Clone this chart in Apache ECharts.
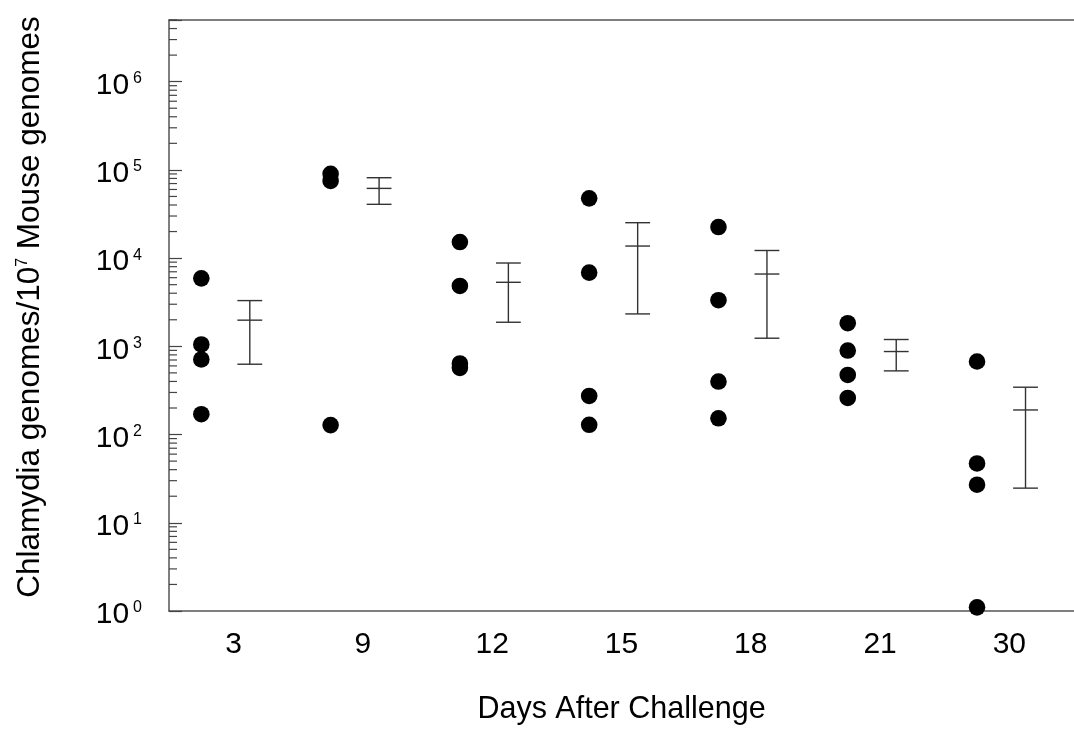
<!DOCTYPE html>
<html>
<head>
<meta charset="utf-8">
<script src="https://cdn.jsdelivr.net/npm/echarts@6/dist/echarts.min.js"></script>
<style>
  html, body { margin: 0; padding: 0; background: #fff; }
  #main { width: 1074px; height: 730px; }
</style>
</head>
<body>
<div id="main"></div>
<script>
// categories (days after challenge)
var days = ['3', '9', '12', '15', '18', '21', '30'];

// individual mice, one array per day
var day3 = [5900, 1050, 710, 170];
var day9 = [90000, 75000, 128];
var day12 = [15200, 4830, 640, 570];
var day15 = [47600, 6850, 274, 129];
var day18 = [22500, 3330, 399, 153];
var day21 = [1830, 896, 474, 260];
var day30 = [673, 47, 27, 1.1];

// group mean and error range
var meanVals = [1980, 61700, 5320, 13700, 6600, 873, 190];
var upperVals = [3300, 81500, 8800, 25200, 12200, 1195, 344];
var lowerVals = [627, 40700, 1875, 2330, 1236, 527, 24.7];

// y axis: decades 10^0 .. 10^6, top at 5x10^6
var yExponents = [0, 1, 2, 3, 4, 5, 6];
var yTop = 5e6;

var groups = [day3, day9, day12, day15, day18, day21, day30];
var lg = function (v) { return Math.log10(v); };

var dotData = [];
groups.forEach(function (g, i) {
  g.forEach(function (v) { dotData.push([i, lg(v)]); });
});

var barData = meanVals.map(function (m, i) {
  return [i, lg(lowerVals[i]), lg(m), lg(upperVals[i])];
});

// minor log ticks (2..9 x 10^n)
var minorData = [];
yExponents.forEach(function (e) {
  for (var k = 2; k <= 9; k++) {
    var v = k * Math.pow(10, e);
    if (v <= yTop) minorData.push([0, lg(v)]);
  }
});

var lineColor = '#444';
var axisColor = '#555';
var fontFam = '"Liberation Sans", Arial, sans-serif';

var myChart = echarts.init(document.getElementById('main'));

var option = {
  animation: false,
  backgroundColor: '#fff',
  grid: { left: 169, top: 20, right: -4, bottom: 118 },
  graphic: [{
    type: 'text',
    x: 30, y: 307,
    rotation: Math.PI / 2,
    style: {
      text: '{a|Chlamydia genomes/10}{s|7}{a| Mouse genomes}',
      align: 'center', verticalAlign: 'middle',
      rich: {
        a: { fontSize: 31.5, fill: '#000', fontFamily: fontFam },
        s: { fontSize: 16, fill: '#000', fontFamily: fontFam, padding: [0, 0, 14, 0] }
      }
    }
  }],
  xAxis: [{
    type: 'category',
    data: days,
    boundaryGap: true,
    axisLine: { lineStyle: { color: axisColor, width: 1.5 } },
    axisTick: { alignWithLabel: true, inside: true, length: 12, lineStyle: { color: lineColor, width: 1.2 } },
    axisLabel: { color: '#000', fontSize: 30, fontFamily: fontFam, margin: 19 },
    splitLine: { show: false },
    name: 'Days After Challenge',
    nameLocation: 'middle',
    nameGap: 83,
    nameTextStyle: { color: '#000', fontSize: 30.5, fontFamily: fontFam }
  }, {
    type: 'category',
    data: days,
    position: 'top',
    axisLine: { show: true, lineStyle: { color: axisColor, width: 1.5 } },
    axisTick: { show: false },
    axisLabel: { show: false }
  }],
  yAxis: {
    type: 'value',
    min: 0,
    max: lg(yTop),
    interval: 1,
    axisLine: { show: true, lineStyle: { color: axisColor, width: 1.5 } },
    axisTick: { show: true, inside: true, length: 13, lineStyle: { color: lineColor, width: 1.2 } },
    splitLine: { show: false },
    axisLabel: {
      margin: 27,
      padding: [8, 0, 0, 0],
      formatter: function (v) {
        if (Math.abs(v - Math.round(v)) > 1e-6) return '';
        return '{b|10}{s|' + Math.round(v) + '}';
      },
      rich: {
        b: { fontSize: 30, color: '#000', fontFamily: fontFam },
        s: { fontSize: 16, color: '#000', fontFamily: fontFam, padding: [0, 0, 14, 4] }
      }
    }
  },
  series: [
    {
      name: 'mice',
      type: 'custom',
      silent: true,
      data: dotData,
      renderItem: function (params, api) {
        var p = api.coord([api.value(0), api.value(1)]);
        var bw = api.size([1, 0])[0];
        return {
          type: 'circle',
          shape: { cx: p[0] - bw * 0.25, cy: p[1], r: 8.3 },
          style: { fill: '#000' }
        };
      }
    },
    {
      name: 'mean',
      type: 'custom',
      silent: true,
      data: barData,
      renderItem: function (params, api) {
        var i = api.value(0);
        var lo = api.coord([i, api.value(1)]);
        var mid = api.coord([i, api.value(2)]);
        var hi = api.coord([i, api.value(3)]);
        var bw = api.size([1, 0])[0];
        var x = lo[0] + bw * 0.125;
        var hw = bw * 0.096;
        var st = { stroke: '#333', lineWidth: 1.4 };
        return {
          type: 'group',
          children: [
            { type: 'line', shape: { x1: x, y1: lo[1], x2: x, y2: hi[1] }, style: st },
            { type: 'line', shape: { x1: x - hw, y1: lo[1], x2: x + hw, y2: lo[1] }, style: st },
            { type: 'line', shape: { x1: x - hw, y1: mid[1], x2: x + hw, y2: mid[1] }, style: st },
            { type: 'line', shape: { x1: x - hw, y1: hi[1], x2: x + hw, y2: hi[1] }, style: st }
          ]
        };
      }
    },
    {
      name: 'minorTicks',
      type: 'custom',
      silent: true,
      data: minorData,
      renderItem: function (params, api) {
        var y = api.coord([0, api.value(1)])[1];
        var x0 = params.coordSys.x;
        return {
          type: 'line',
          shape: { x1: x0, y1: y, x2: x0 + 8, y2: y },
          style: { stroke: lineColor, lineWidth: 1.2 }
        };
      }
    }
  ]
};

myChart.setOption(option);
</script>
</body>
</html>
